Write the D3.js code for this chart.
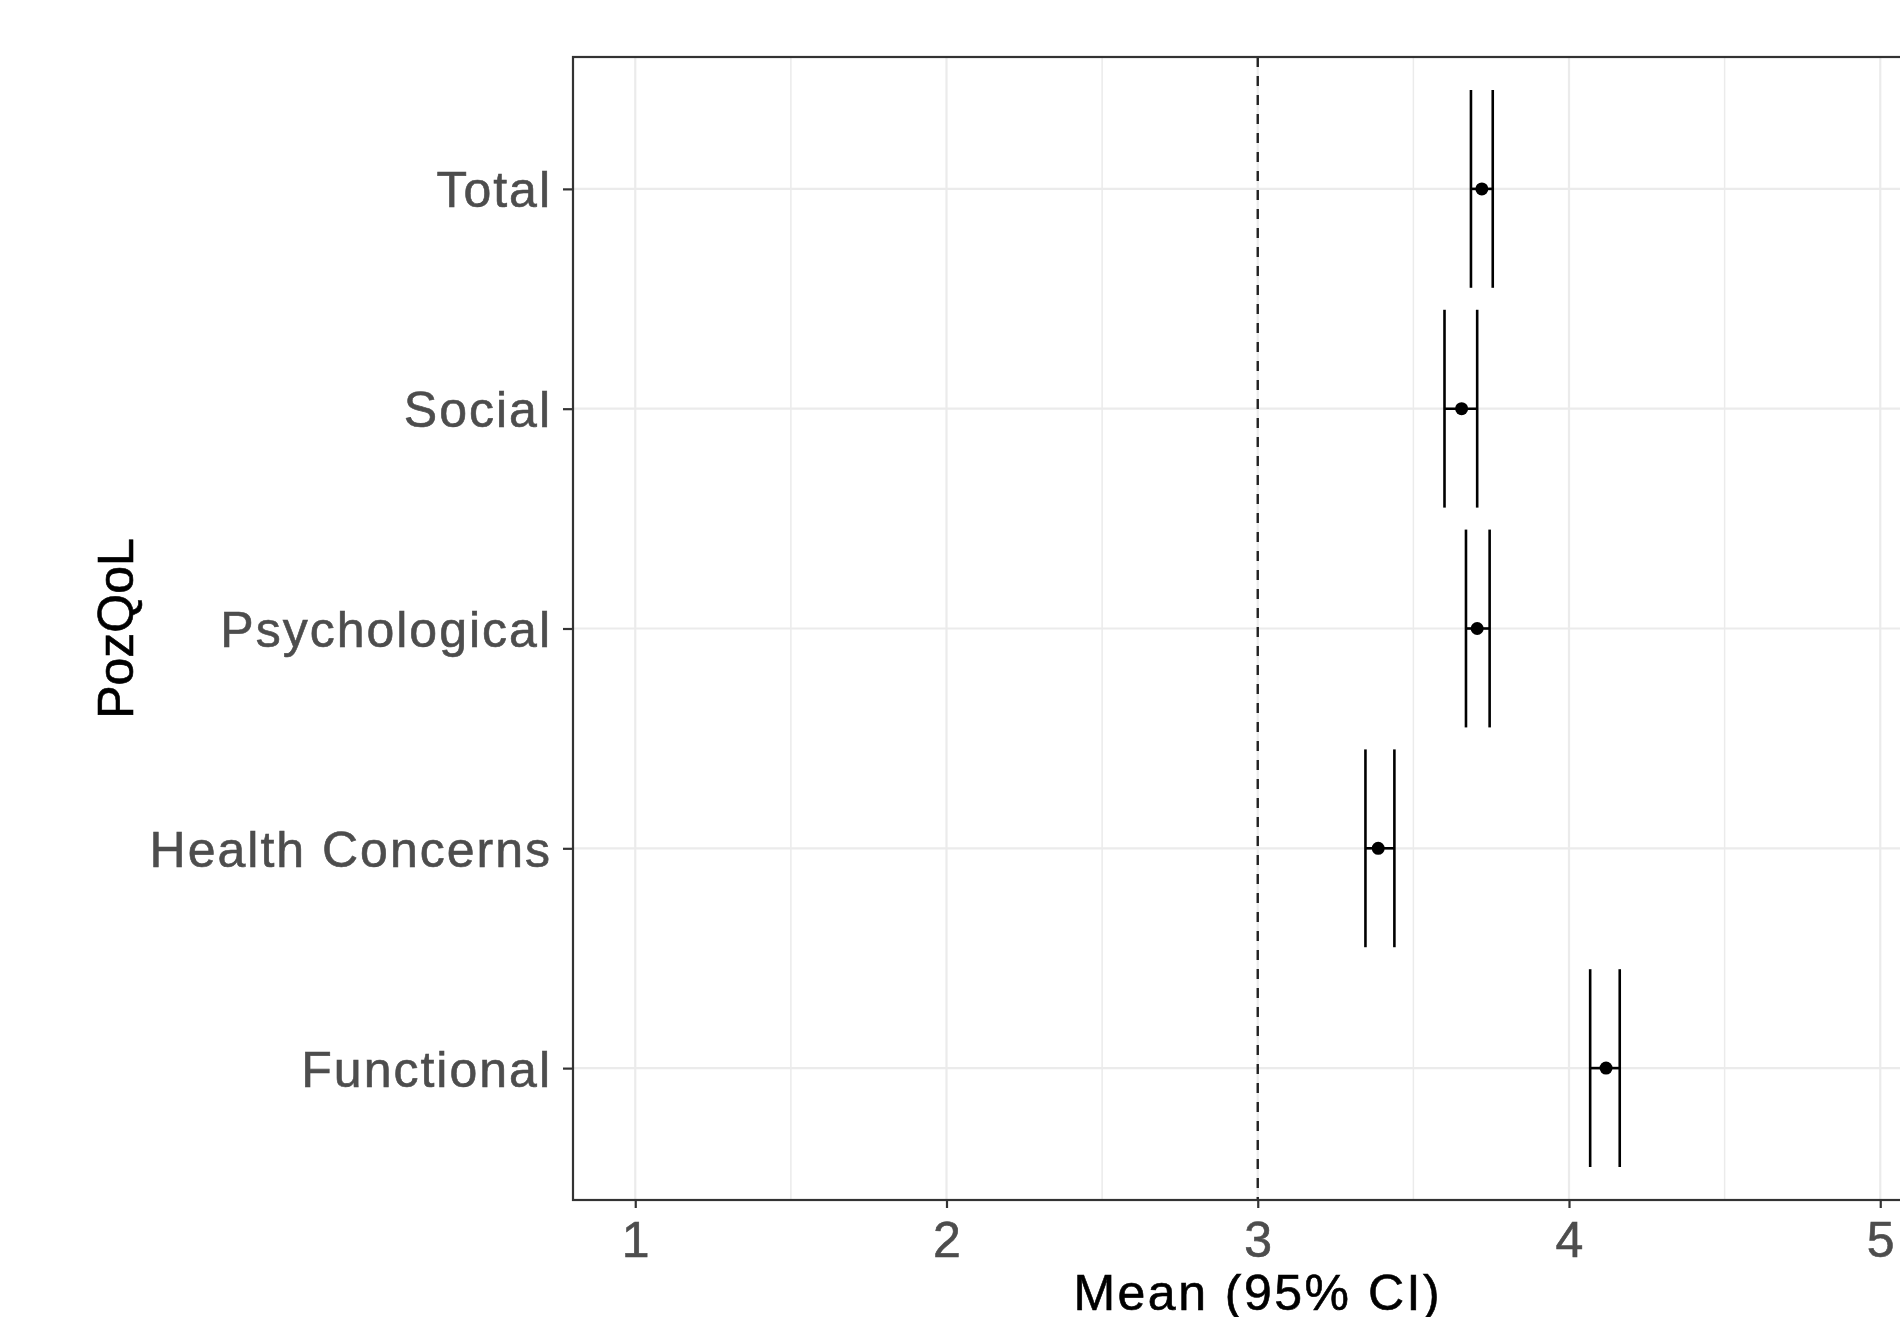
<!DOCTYPE html>
<html>
<head>
<meta charset="utf-8">
<script src="https://cdn.jsdelivr.net/npm/d3@7"></script>
<style>
  body { margin: 0; background: #fff; }
  svg { display: block; font-family: Arial, "Liberation Sans", sans-serif; }
</style>
</head>
<body>
<div id="chart"></div>
<script>
// data
const categories = ["Total", "Social", "Psychological", "Health Concerns", "Functional"];
const means = [3.72, 3.655, 3.705, 3.387, 4.119];
const lower = [3.685, 3.60, 3.669, 3.346, 4.068];
const upper = [3.755, 3.705, 3.745, 3.439, 4.163];
const xTicks = [1, 2, 3, 4, 5];
const xMinor = [1.5, 2.5, 3.5, 4.5];
const refLine = 3;

const rows = categories.map((c, i) => ({cat: c, mean: means[i], lo: lower[i], hi: upper[i]}));

const W = 1900, H = 1317;
const margin = {top: 57, left: 573};
const plotBottom = 1200;
const plotRight = 573 + 4.4 * 311.25;

const svg = d3.select("#chart").append("svg")
    .attr("width", W)
    .attr("height", H);

const x = d3.scaleLinear().domain([0.8, 5.2]).range([margin.left, plotRight]);
const y = d3.scalePoint().domain(categories).range([margin.top, plotBottom]).padding(0.6);
const barH = 0.9 * y.step();

// grid
svg.append("g").selectAll("line.minor")
    .data(xMinor).enter().append("line")
    .attr("x1", d => x(d)).attr("x2", d => x(d))
    .attr("y1", margin.top).attr("y2", plotBottom)
    .attr("stroke", "#ebebeb").attr("stroke-width", 1.5);

svg.append("g").selectAll("line.major")
    .data(xTicks).enter().append("line")
    .attr("x1", d => x(d)).attr("x2", d => x(d))
    .attr("y1", margin.top).attr("y2", plotBottom)
    .attr("stroke", "#ebebeb").attr("stroke-width", 2.2);

svg.append("g").selectAll("line.hgrid")
    .data(categories).enter().append("line")
    .attr("x1", margin.left).attr("x2", plotRight)
    .attr("y1", d => y(d)).attr("y2", d => y(d))
    .attr("stroke", "#ebebeb").attr("stroke-width", 2.2);

// reference line
svg.append("line")
    .attr("x1", x(refLine)).attr("x2", x(refLine))
    .attr("y1", margin.top).attr("y2", plotBottom)
    .attr("stroke", "#222").attr("stroke-width", 2.4)
    .attr("stroke-dasharray", "10,9");

// error bars
const eb = svg.append("g").selectAll("g.eb")
    .data(rows).enter().append("g");

eb.append("line")
    .attr("x1", d => x(d.lo)).attr("x2", d => x(d.hi))
    .attr("y1", d => y(d.cat)).attr("y2", d => y(d.cat))
    .attr("stroke", "#000").attr("stroke-width", 2.6);

eb.append("line")
    .attr("x1", d => x(d.lo)).attr("x2", d => x(d.lo))
    .attr("y1", d => y(d.cat) - barH / 2).attr("y2", d => y(d.cat) + barH / 2)
    .attr("stroke", "#000").attr("stroke-width", 2.6);

eb.append("line")
    .attr("x1", d => x(d.hi)).attr("x2", d => x(d.hi))
    .attr("y1", d => y(d.cat) - barH / 2).attr("y2", d => y(d.cat) + barH / 2)
    .attr("stroke", "#000").attr("stroke-width", 2.6);

eb.append("circle")
    .attr("cx", d => x(d.mean)).attr("cy", d => y(d.cat))
    .attr("r", 6.5).attr("fill", "#000");

// panel border
svg.append("rect")
    .attr("x", margin.left).attr("y", margin.top)
    .attr("width", plotRight - margin.left).attr("height", plotBottom - margin.top)
    .attr("fill", "none").attr("stroke", "#333").attr("stroke-width", 2.2);

// axes
const xAxis = d3.axisBottom(x).tickValues(xTicks).tickSize(8).tickPadding(13).tickFormat(d3.format("d"));
const gx = svg.append("g")
    .attr("transform", `translate(0,${plotBottom})`)
    .call(xAxis);
gx.select(".domain").remove();
gx.selectAll(".tick line").attr("stroke", "#333").attr("stroke-width", 2.2);
gx.selectAll(".tick text")
    .attr("fill", "#4d4d4d")
    .attr("stroke", "#4d4d4d").attr("stroke-width", 0.6)
    .style("font-size", "50px")
    .style("font-family", "Arial, 'Liberation Sans', sans-serif")
    .attr("dy", "0.71em");

const yAxis = d3.axisLeft(y).tickSize(10).tickPadding(11);
const gy = svg.append("g")
    .attr("transform", `translate(${margin.left},0)`)
    .call(yAxis);
gy.select(".domain").remove();
gy.selectAll(".tick line").attr("stroke", "#333").attr("stroke-width", 2.2);
gy.selectAll(".tick text")
    .attr("fill", "#4d4d4d")
    .attr("stroke", "#4d4d4d").attr("stroke-width", 0.6)
    .style("font-size", "50px")
    .style("letter-spacing", "2px")
    .style("font-family", "Arial, 'Liberation Sans', sans-serif")
    .attr("dy", "0.36em");

// titles
svg.append("text")
    .attr("x", (margin.left + plotRight) / 2)
    .attr("y", 1310)
    .attr("text-anchor", "middle")
    .style("font-size", "50px")
    .style("letter-spacing", "2.5px")
    .attr("fill", "#000")
    .attr("stroke", "#000").attr("stroke-width", 0.6)
    .text("Mean (95% CI)");

svg.append("text")
    .attr("transform", `translate(133,${(margin.top + plotBottom) / 2}) rotate(-90)`)
    .attr("text-anchor", "middle")
    .style("font-size", "50px")
    .attr("fill", "#000")
    .attr("stroke", "#000").attr("stroke-width", 0.6)
    .text("PozQoL");
</script>
</body>
</html>
